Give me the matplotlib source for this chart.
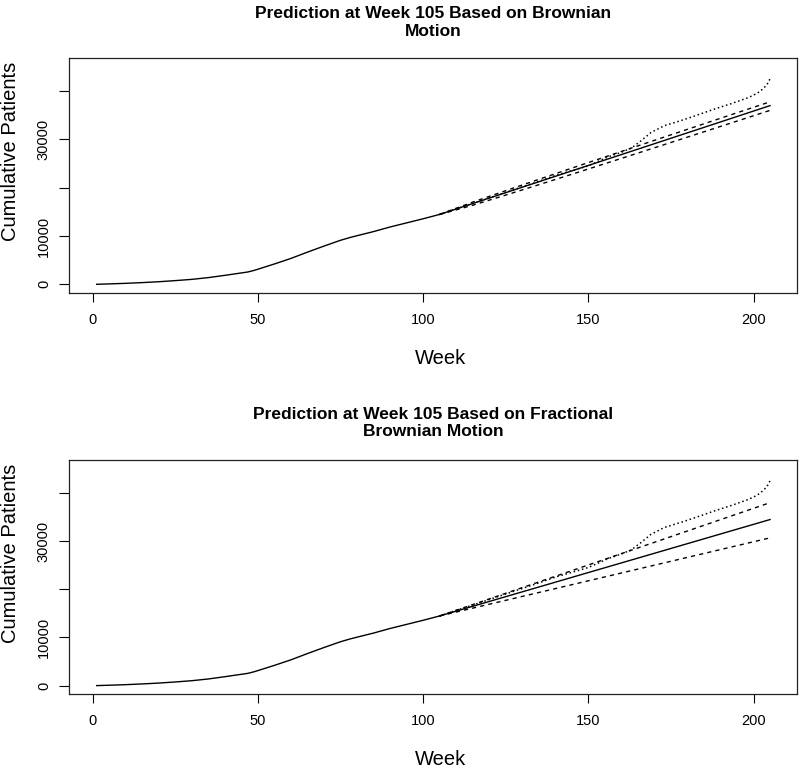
import matplotlib
matplotlib.use("Agg")
import matplotlib.pyplot as plt

plt.rcParams['font.family'] = ['Liberation Sans', 'DejaVu Sans']

# ---- data ----
obs_weeks = [1, 5, 10, 15, 20, 25, 30, 35, 40, 44, 47, 49, 52, 55, 60, 65, 70, 75, 78,
             80, 85, 90, 95, 100, 105]
obs_values = [0, 80, 200, 350, 530, 760, 1020, 1380, 1850, 2250, 2550, 2900, 3550, 4200,
              5350, 6650, 7900, 9100, 9700, 10050, 10900, 11850, 12700, 13550, 14450]

future_weeks = [105, 110, 115, 120, 125, 130, 135, 140, 145, 150, 156, 160, 163, 166,
                169, 173, 178, 183, 188, 193, 198, 200, 202, 204, 205]
future_values = [14450, 15600, 16700, 17850, 19000, 20150, 21300, 22500, 23500, 24500,
                 26350, 27300, 28150, 29700, 31400, 32800, 33850, 35000, 36200, 37300,
                 38500, 39100, 39900, 41200, 42500]

pred_weeks = [105, 115, 125, 135, 145, 155, 165, 175, 185, 195, 205]

bm_mean = [14450, 16700, 18950, 21200, 23450, 25700, 27950, 30200, 32450, 34700, 36950]
bm_upper = [14450, 16990, 19360, 21700, 24020, 26320, 28620, 30910, 33190, 35470, 37740]
bm_lower = [14450, 16340, 18450, 20590, 22750, 24940, 27130, 29330, 31540, 33750, 35970]

fbm_mean = [14450, 16450, 18450, 20450, 22450, 24450, 26450, 28450, 30450, 32450, 34450]
fbm_upper = [14450, 16800, 19150, 21500, 23850, 26200, 28550, 30900, 33250, 35600, 37950]
fbm_lower = [14450, 16070, 17690, 19310, 20930, 22550, 24170, 25790, 27410, 29030, 30650]

titles = ["Prediction at Week 105 Based on Brownian\nMotion",
          "Prediction at Week 105 Based on Fractional\nBrownian Motion"]
ytick_values = [0, 10000, 20000, 30000, 40000]
ytick_labels = ["0", "10000", "", "30000", ""]
xtick_values = [0, 50, 100, 150, 200]
xtick_labels = ["0", "50", "100", "150", "200"]

W, H = 800, 768
fig = plt.figure(figsize=(W / 100, H / 100), dpi=100)

panels = [
    dict(rect=(69, 58, 797, 293), title=titles[0], title_y=22.5,
         mean=bm_mean, upper=bm_upper, lower=bm_lower),
    dict(rect=(69, 460, 797, 694.3), title=titles[1], title_y=423.3,
         mean=fbm_mean, upper=fbm_upper, lower=fbm_lower),
]

for p in panels:
    x0, y0, x1, y1 = p['rect']
    ax = fig.add_axes([x0 / W, 1 - y1 / H, (x1 - x0) / W, (y1 - y0) / H])
    ax.plot(obs_weeks, obs_values, color='black', lw=1.0, solid_capstyle='butt')
    ax.plot(pred_weeks, p['mean'], color='black', lw=1.0)
    ax.plot(pred_weeks, p['upper'], color='black', lw=1.0, linestyle=(0, (3, 3)))
    ax.plot(pred_weeks, p['lower'], color='black', lw=1.0, linestyle=(0, (3, 3)))
    ax.plot(future_weeks, future_values, color='black', lw=1.1, linestyle=(0, (1, 1.8)))

    ax.set_xlim(-7.16, 213.16)
    ax.set_ylim(-1800, 46800)
    ax.set_xticks(xtick_values)
    ax.set_xticklabels(xtick_labels, fontsize=10.5)
    ax.set_yticks(ytick_values)
    ax.set_yticklabels(ytick_labels, fontsize=10.5, rotation=90, va='center')
    ax.tick_params(axis='x', direction='out', length=6.5, width=0.8, pad=8, colors='black')
    ax.tick_params(axis='y', direction='out', length=7, width=0.8, pad=6, colors='black')
    for s in ax.spines.values():
        s.set_linewidth(0.9)
        s.set_color('#222222')

    ax.set_xlabel("Week", fontsize=14.5)
    ax.xaxis.set_label_coords(0.511, -0.277)
    ax.xaxis.label.set_va('center')
    ax.set_ylabel("Cumulative Patients", fontsize=14.5)
    ax.yaxis.set_label_coords((11 - x0) / (x1 - x0), 0.602)
    ax.yaxis.label.set_va('center')

    fig.text(433 / W, 1 - p['title_y'] / H, p['title'], ha='center', va='center',
             fontsize=12.5, fontweight='bold', linespacing=1.18)

fig.savefig("out.png", dpi=100)
